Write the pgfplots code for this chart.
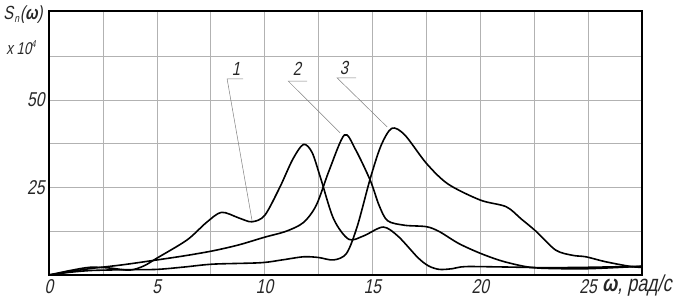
\documentclass[border=0pt]{standalone}
\usepackage{fontspec}
\setmainfont{Liberation Sans}
\newfontfamily\gost{Liberation Sans}[FakeStretch=0.78,FakeSlant=0.2]
\usepackage{pgfplots}
\pgfplotsset{compat=1.18}
\begin{document}
\begin{tikzpicture}
\begin{axis}[
  at={(49pt,28pt)}, anchor=south west,
  scale only axis, width=593pt, height=264pt,
  xmin=0, xmax=27.5, ymin=0, ymax=75.4,
  xtick={0,2.5,...,25}, xticklabels={0,,5,,10,,15,,20,,25},
  ytick={12.5,25,37.5,50,62.5}, yticklabels={,25,,50,},
  grid=major, major grid style={gray!60, line width=0.6pt},
  major tick length=0pt,
  axis line style={black, line width=1.3pt},
  tick label style={font=\gost\fontsize{20}{20}\selectfont, text=black!85},
  /pgf/number format/assume math mode=true,
  xticklabel style={yshift=-1pt},
  yticklabel style={xshift=-1pt},
  clip=false,
]
% curve 1
\addplot[black, line width=1.6pt, smooth, tension=0.5] coordinates {
(0,0) (1,1.3) (1.9,2.2) (2.8,2.0) (3.75,1.4) (4.4,2.6) (5,4.8) (6.4,10) (7.3,15) (8.0,17.9)
(8.8,16.3) (9.4,15.2) (10,17) (10.7,25) (11.3,33) (11.8,37.3) (12.2,35) (12.6,27.6)
(13.2,16) (13.9,10.2) (14.6,11.2) (15.5,13.7) (16.2,11) (17.1,5) (17.6,2.6) (18.1,1.6)
(18.7,1.8) (19.3,2.4) (21,2.3) (23,2.1) (25,2.2) (27.5,2.5)};
% curve 2
\addplot[black, line width=1.6pt, smooth, tension=0.5] coordinates {
(0,0) (1,1.0) (2,1.9) (3.4,2.9) (5,4.3) (6.3,5.5) (7.6,6.9) (8.8,8.6) (10,10.8) (11,12.5)
(11.8,15) (12.4,20) (13,30) (13.7,40) (14.2,36) (14.9,27) (15.3,20) (15.7,15.5) (16.5,14.2)
(17.5,13.8) (18.1,12.4) (19,9) (20,6.2) (21,4) (22.1,2.4) (23,1.9) (25,1.8) (27.5,2.5)};
% curve 3
\addplot[black, line width=1.6pt, smooth, tension=0.5] coordinates {
(0,0) (1,0.8) (2,1.3) (3.5,1.5) (5,1.6) (6.3,2.3) (7.6,3.1) (9.8,3.5) (10.8,4.3) (11.8,5.2)
(12.5,5) (13.2,4.3) (13.8,6.2) (14.3,14) (14.9,27.6) (15.4,37) (15.9,41.9) (16.5,40)
(17.5,31.9) (18.5,26) (20,21.4) (21.2,19.5) (21.9,16) (22.6,12.4) (23.5,7.1) (24.3,5.6)
(24.9,5.2) (25.8,3.8) (27,2.4) (27.5,2.2)};
% leaders and labels
\draw[gray, line width=0.5pt] (axis cs:9.0,56.0) -- (axis cs:8.26,56.0) -- (axis cs:9.42,15.4);
\draw[gray, line width=0.5pt] (axis cs:11.97,55.4) -- (axis cs:11.09,55.4) -- (axis cs:13.50,40.6);
\draw[gray, line width=0.5pt] (axis cs:14.24,56.3) -- (axis cs:13.36,56.3) -- (axis cs:15.68,42.3);
\node[font=\gost\fontsize{19}{19}\selectfont, text=black!85] at (axis cs:8.67,58.9) {1};
\node[font=\gost\fontsize{19}{19}\selectfont, text=black!85] at (axis cs:11.5,58.9) {2};
\node[font=\gost\fontsize{19}{19}\selectfont, text=black!85] at (axis cs:13.68,59.1) {3};
% axis texts
\node[font=\gost\fontsize{19}{19}\selectfont, text=black!85, inner sep=0pt] at (axis description cs:-0.044,0.985)
  {S\kern1.2pt\raisebox{-0.3ex}{\fontsize{11}{11}\selectfont n}\kern1pt(\textbf{ω})};
\node[font=\gost\fontsize{17}{17}\selectfont, text=black!85, inner sep=0pt] at (axis description cs:-0.047,0.862)
  {x 10\raisebox{0.8ex}{\fontsize{10}{10}\selectfont 4}};
\node[font=\gost\fontsize{23}{23}\selectfont, text=black!85, inner sep=0pt, anchor=west] at (axis description cs:0.9325,-0.04)
  {\textbf{ω}, рад/с};
\end{axis}
\pgfresetboundingbox
\path[use as bounding box] (0,0) rectangle (679pt,303pt);
\end{tikzpicture}
\end{document}
